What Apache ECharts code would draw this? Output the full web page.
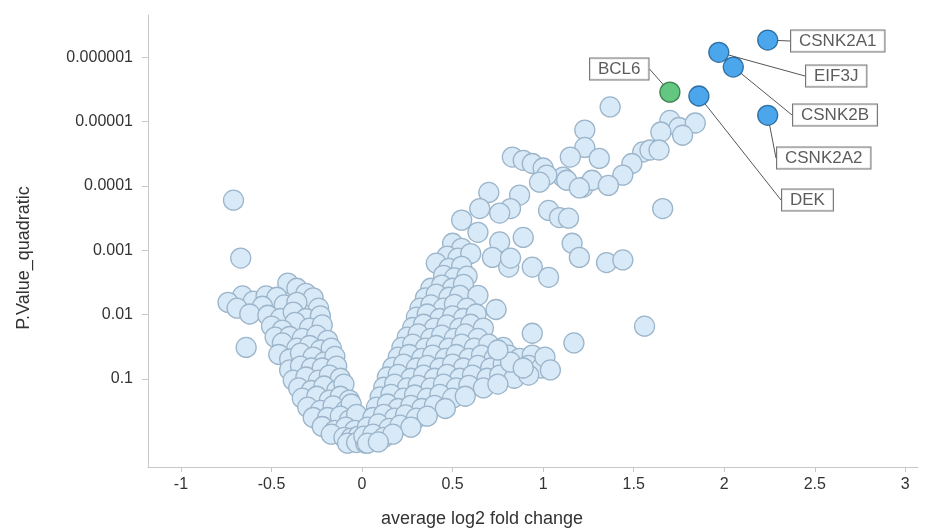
<!DOCTYPE html>
<html>
<head>
<meta charset="utf-8">
<script src="https://cdn.jsdelivr.net/npm/echarts@6/dist/echarts.min.js"></script>
<style>
  html, body { margin: 0; padding: 0; background: #fff; }
  #chart { width: 933px; height: 529px; }
</style>
</head>
<body>
<div id="chart"></div>
<script>
// points are [average log2 fold change, -log10(P.Value_quadratic)]
var leftArm = [
  [-0.41,2.49],[-0.36,2.41],
  [-0.66,2.29],[-0.60,2.21],[-0.53,2.29],[-0.47,2.27],[-0.31,2.33],[-0.27,2.26],
  [-0.74,2.19],[-0.69,2.10],[-0.55,2.13],[-0.43,2.15],[-0.36,2.19],[-0.24,2.10],
  [-0.62,2.01],[-0.52,1.99],[-0.45,1.94],[-0.38,2.04],[-0.31,1.94],[-0.23,1.98],
  [-0.50,1.82],[-0.37,1.88],[-0.29,1.79],[-0.22,1.84],[-0.44,1.76],
  [-0.48,1.65],[-0.40,1.66],[-0.33,1.63],[-0.25,1.68],[-0.19,1.60],
  [-0.44,1.56],[-0.36,1.48],[-0.29,1.52],[-0.23,1.45],[-0.17,1.48],
  [-0.46,1.38],[-0.40,1.31],[-0.34,1.40],[-0.27,1.34],[-0.21,1.26],[-0.15,1.35],
  [-0.40,1.14],[-0.34,1.20],[-0.28,1.17],[-0.22,1.17],[-0.14,1.20],
  [-0.38,0.98],[-0.31,1.03],[-0.24,0.98],[-0.18,1.06],[-0.12,1.01],
  [-0.35,0.86],[-0.28,0.82],[-0.21,0.89],[-0.14,0.82],[-0.10,0.92],
  [-0.33,0.70],[-0.25,0.73],[-0.18,0.67],[-0.12,0.73],[-0.07,0.67],
  [-0.30,0.56],[-0.23,0.51],[-0.16,0.58],[-0.09,0.51],[-0.06,0.61],
  [-0.27,0.40],[-0.19,0.40],[-0.12,0.42],[-0.07,0.36],[-0.03,0.45],
  [-0.22,0.26],[-0.15,0.20],[-0.09,0.25],[-0.04,0.20],
  [-0.17,0.14],[-0.10,0.09],[-0.06,0.08],[-0.02,0.11],
  [-0.08,0.00],[-0.03,0.01],[0.02,0.00],
  [-0.71,3.78],[-0.67,2.88],[-0.64,1.49]
];

var rightArm = [
  [0.50,3.11],[0.55,3.03],
  [0.47,2.91],[0.53,2.88],[0.60,2.95],
  [0.41,2.80],[0.48,2.72],[0.55,2.75],
  [0.45,2.61],[0.51,2.57],[0.58,2.60],
  [0.38,2.41],[0.44,2.46],[0.50,2.41],[0.56,2.47],
  [0.35,2.26],[0.41,2.32],[0.48,2.27],[0.54,2.30],[0.64,2.30],
  [0.32,2.10],[0.38,2.15],[0.45,2.10],[0.51,2.16],[0.58,2.10],[0.74,2.08],
  [0.30,1.96],[0.36,2.01],[0.43,1.94],[0.50,1.98],[0.56,1.94],[0.63,2.01],
  [0.28,1.80],[0.34,1.85],[0.40,1.79],[0.47,1.84],[0.54,1.79],[0.60,1.85],[0.67,1.79],
  [0.25,1.65],[0.31,1.70],[0.38,1.63],[0.44,1.68],[0.51,1.63],[0.57,1.70],[0.64,1.63],
  [0.22,1.49],[0.28,1.54],[0.35,1.48],[0.41,1.52],[0.48,1.48],[0.55,1.54],[0.62,1.48],[0.70,1.54],[0.78,1.49],
  [0.20,1.34],[0.26,1.38],[0.33,1.32],[0.39,1.37],[0.46,1.32],[0.52,1.38],[0.59,1.32],[0.66,1.37],[0.73,1.32],[0.81,1.37],[0.87,1.32],[0.94,1.37],
  [0.17,1.18],[0.23,1.23],[0.30,1.17],[0.36,1.21],[0.43,1.17],[0.50,1.23],[0.56,1.17],[0.64,1.21],[0.71,1.17],[0.78,1.23],[0.85,1.17],[0.92,1.21],[0.99,1.17],
  [0.14,1.03],[0.20,1.07],[0.27,1.01],[0.34,1.06],[0.40,1.01],[0.47,1.07],[0.54,1.01],[0.61,1.06],[0.69,1.01],[0.76,1.06],[0.84,1.01],[0.92,1.06],
  [0.12,0.87],[0.18,0.92],[0.25,0.86],[0.31,0.90],[0.38,0.86],[0.45,0.92],[0.52,0.86],[0.59,0.90],[0.67,0.86],[0.75,0.92],
  [0.10,0.72],[0.16,0.76],[0.23,0.70],[0.29,0.75],[0.36,0.70],[0.43,0.76],[0.50,0.70],[0.57,0.73],
  [0.08,0.56],[0.14,0.61],[0.20,0.54],[0.27,0.59],[0.33,0.54],[0.40,0.59],[0.46,0.54],
  [0.06,0.40],[0.12,0.45],[0.18,0.39],[0.24,0.44],[0.30,0.39],[0.36,0.42],
  [0.03,0.25],[0.09,0.30],[0.15,0.23],[0.21,0.28],[0.27,0.25],
  [0.01,0.11],[0.06,0.14],[0.12,0.09],[0.17,0.14],
  [0.03,0.00],[0.09,0.02]
];

var upperBranch = [
  [1.37,5.23],[1.23,4.87],[1.23,4.60],[1.70,5.02],[1.75,4.91],[1.84,4.98],[1.65,4.84],[1.77,4.79],
  [1.55,4.53],[1.59,4.56],[1.64,4.56],[1.49,4.35],[1.44,4.17],
  [1.15,4.45],[1.31,4.43],[1.11,4.14],[1.22,3.98],[1.27,4.09],[1.36,4.01],[1.66,3.65],
  [0.83,4.45],[0.89,4.40],[0.94,4.35],[1.00,4.28],[1.02,4.17],[0.98,4.06],[1.13,4.09],[1.20,3.97],
  [0.70,3.90],[0.87,3.86],[0.82,3.65],[0.76,3.58],[0.65,3.65],[1.03,3.62],[1.09,3.51],[1.14,3.50],
  [0.55,3.47],[0.64,3.28],[0.76,3.13],[0.89,3.20],
  [0.72,2.89],[0.81,2.74],[0.94,2.74],[1.16,3.11],[1.20,2.89],[1.35,2.81],[1.44,2.85],[1.03,2.58],[0.82,2.88]
];

var lowerBranch = [
  [0.94,1.71],[1.17,1.56],[1.56,1.82],[0.82,1.26],[1.01,1.34],[1.04,1.14],[0.89,1.17],[0.75,1.45]
];

var geneNames = ['CSNK2A1', 'EIF3J', 'CSNK2B', 'CSNK2A2', 'DEK', 'BCL6'];
var geneFoldChange = [2.24, 1.97, 2.05, 2.24, 1.86, 1.70];
var geneNegLogP = [6.27, 6.08, 5.85, 5.10, 5.40, 5.46];
var geneColors = ['#1e90e6', '#1e90e6', '#1e90e6', '#1e90e6', '#1e90e6', '#3cb862'];
var geneBorders = ['#16588f', '#16588f', '#16588f', '#16588f', '#16588f', '#1f6a35'];
// label box positions (left edge, vertical centre) in pixels
var labelSpots = [[791, 41], [806, 76], [793, 115], [777, 158], [782, 200], [590, 69]];

var yTicks = [1, 2, 3, 4, 5, 6];
var xTicks = [-1, -0.5, 0, 0.5, 1, 1.5, 2, 2.5, 3];

var font = '"Liberation Sans", Arial, sans-serif';

var chart = echarts.init(document.getElementById('chart'));

var geneData = geneNames.map(function (n, i) {
  return {
    name: n,
    value: [geneFoldChange[i], geneNegLogP[i]],
    itemStyle: { color: geneColors[i], borderColor: geneBorders[i] }
  };
});

var bgStyle = { color: '#d8eaf8', borderColor: '#9cb5ca', borderWidth: 1.3, opacity: 1 };

var option = {
  animation: false,
  grid: { left: 148, right: 15, top: 15, bottom: 62, outerBoundsMode: 'none', containLabel: false },
  xAxis: {
    type: 'value',
    min: -1.182,
    max: 3.07,
    name: 'average log2 fold change',
    nameLocation: 'middle',
    nameGap: 43,
    nameTextStyle: { fontFamily: font, fontSize: 18, color: '#333', padding: [0, 102, 0, 0] },
    axisLine: { onZero: false, lineStyle: { color: '#c8c8c8' } },
    axisTick: { show: true, length: 5, customValues: xTicks, lineStyle: { color: '#c8c8c8' } },
    axisLabel: { customValues: xTicks, margin: 10, fontFamily: font, fontSize: 16, color: '#333' },
    splitLine: { show: false }
  },
  yAxis: {
    type: 'value',
    min: -0.37,
    max: 6.66,
    name: 'P.Value_quadratic',
    nameLocation: 'middle',
    nameGap: 115,
    nameRotate: 90,
    nameTextStyle: { fontFamily: font, fontSize: 18, color: '#333', padding: [0, 34, 0, 0] },
    axisLine: { show: true, onZero: false, lineStyle: { color: '#c8c8c8' } },
    axisTick: { show: true, length: 6, customValues: yTicks, lineStyle: { color: '#c8c8c8' } },
    axisLabel: {
      customValues: yTicks,
      margin: 15,
      fontFamily: font,
      fontSize: 16,
      color: '#333',
      formatter: function (v) { return Math.pow(10, -v).toFixed(v); }
    },
    splitLine: { show: false }
  },
  series: [
    {
      type: 'scatter',
      symbolSize: 20,
      silent: true,
      itemStyle: bgStyle,
      data: leftArm.concat(rightArm, upperBranch, lowerBranch)
    },
    {
      type: 'scatter',
      symbolSize: 20,
      silent: true,
      z: 5,
      itemStyle: { borderWidth: 1.3 },
      data: geneData,
      label: {
        show: true,
        formatter: '{b}',
        fontFamily: font,
        fontSize: 17,
        color: '#333',
        backgroundColor: '#fff',
        borderColor: '#555',
        borderWidth: 1,
        padding: [2, 8, 2, 8]
      },
      labelLine: { show: true, length2: 0, lineStyle: { color: '#555', width: 1 } },
      labelLayout: function (params) {
        var s = labelSpots[params.dataIndex];
        return { x: s[0], y: s[1], align: 'left', verticalAlign: 'middle' };
      }
    }
  ]
};

chart.setOption(option);
window.addEventListener('resize', chart.resize);
</script>
</body>
</html>
